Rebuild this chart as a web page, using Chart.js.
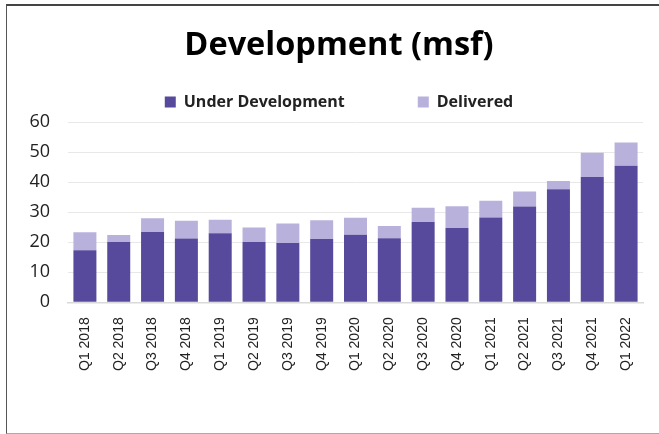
<!DOCTYPE html>
<html>
<head>
<meta charset="utf-8">
<script src="https://cdn.jsdelivr.net/npm/chart.js@4"></script>
<style>
  html, body { margin: 0; padding: 0; background: #fff; overflow: hidden; }
  #frame { position: absolute; left: 6px; top: 4px; width: 700px; height: 427px;
           border-left: 1.5px solid #555; border-top: 2px solid #444; border-bottom: 1.5px solid #aaa; }
  #wrap { position: absolute; left: 0; top: 0; width: 659px; height: 434px; }
</style>
</head>
<body>
<div id="frame"></div>
<div id="wrap"><canvas id="myChart" width="659" height="434"></canvas></div>
<script>
// quarters on the x axis
const quarters = ['Q1 2018', 'Q2 2018', 'Q3 2018', 'Q4 2018', 'Q1 2019', 'Q2 2019', 'Q3 2019', 'Q4 2019',
    'Q1 2020', 'Q2 2020', 'Q3 2020', 'Q4 2020', 'Q1 2021', 'Q2 2021', 'Q3 2021', 'Q4 2021', 'Q1 2022'];
// msf under development
const underDevelopment = [17.3, 20.1, 23.4, 21.2, 23.0, 20.1, 19.7, 21.1, 22.5, 21.3, 26.7, 24.7, 28.2, 31.9, 37.6, 41.7, 45.4];
// msf delivered (stacked on top)
const delivered = [6.0, 2.3, 4.6, 5.9, 4.5, 4.8, 6.5, 6.2, 5.6, 4.1, 4.8, 7.3, 5.6, 5.0, 2.8, 8.1, 7.8];
// y axis ticks
const yTicks = [0, 10, 20, 30, 40, 50, 60];

// a bit more room under the legend, and title/legend nudged right like the original
const tweakBoxes = {
    id: 'tweakBoxes',
    afterInit(chart) {
        const legend = chart.legend;
        const fit = legend.fit;
        legend.fit = function () { fit.call(this); this.height += 2; };
    },
    afterLayout(chart) {
        [chart.titleBlock, chart.legend].forEach(b => { b.left += 4; b.right += 4; });
    }
};

const ctx = document.getElementById('myChart').getContext('2d');
const chart = new Chart(ctx, {
    type: 'bar',
    data: {
        labels: quarters,
        datasets: [{
            label: 'Under Development',
            data: underDevelopment,
            backgroundColor: '#574a9c',
            barPercentage: 0.68,
            categoryPercentage: 1
        }, {
            label: 'Delivered',
            data: delivered,
            backgroundColor: '#b8b1dc',
            barPercentage: 0.68,
            categoryPercentage: 1
        }]
    },
    plugins: [tweakBoxes],
    options: {
        responsive: false,
        animation: false,
        layout: { padding: { left: 27, right: 16, top: 1, bottom: 56 } },
        plugins: {
            title: {
                display: true,
                text: 'Development (msf)',
                color: '#000',
                font: { family: 'Open Sans', size: 32.5, weight: 'bold' },
                padding: { top: 25, bottom: -44 }
            },
            legend: {
                display: true,
                labels: {
                    color: '#222',
                    font: { family: 'Open Sans', size: 16, weight: 'bold' },
                    boxWidth: 11,
                    boxHeight: 11,
                    padding: 73
                }
            },
            tooltip: { enabled: false }
        },
        scales: {
            x: {
                stacked: true,
                grid: { display: false },
                border: { display: true, color: '#d9d9d9', width: 1.5 },
                ticks: {
                    color: '#222',
                    font: { family: 'Liberation Sans', size: 14 },
                    minRotation: 90,
                    maxRotation: 90,
                    padding: 7
                }
            },
            y: {
                stacked: true,
                min: yTicks[0],
                max: yTicks[yTicks.length - 1],
                afterBuildTicks: axis => { axis.ticks = yTicks.map(v => ({ value: v })); },
                afterFit: axis => { axis.width = 41; },
                grid: { color: '#e8e8e8', drawTicks: false },
                border: { display: false },
                ticks: {
                    color: '#222',
                    font: { family: 'Open Sans', size: 18 },
                    padding: 18
                }
            }
        }
    }
});
</script>
</body>
</html>
